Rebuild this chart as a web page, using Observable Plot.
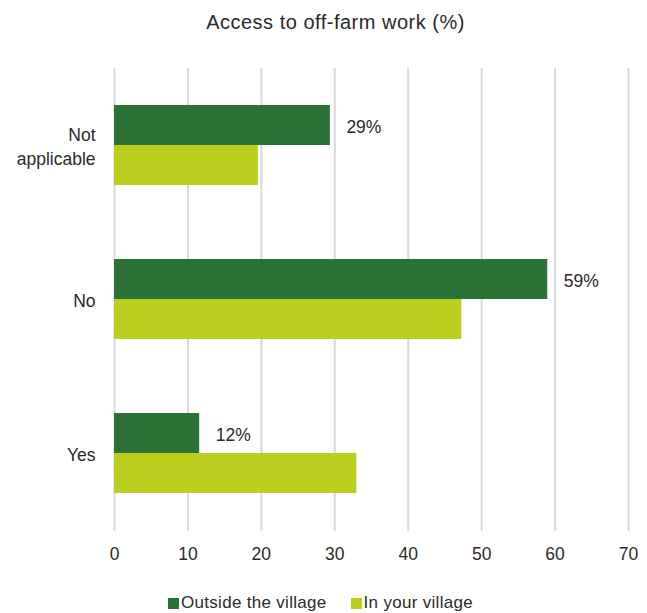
<!DOCTYPE html>
<html>
<head>
<meta charset="utf-8">
<script src="https://cdn.jsdelivr.net/npm/d3@7"></script>
<script src="https://cdn.jsdelivr.net/npm/@observablehq/plot@0.6"></script>
<style>
  body { margin: 0; background: #fff; font-family: "Liberation Sans", Arial, sans-serif; color: #2a2a2a; }
  #wrap { width: 647px; }
  #title { height: 44px; line-height: 44px; font-size: 20px; text-align: center; padding-left: 24px; letter-spacing: 0.5px; }
  #legend { display: flex; justify-content: center; align-items: center; height: 20px; margin-top: 19px; font-size: 17px; letter-spacing: 0.3px; padding-right: 6px; }
  .item { display: flex; align-items: center; margin: 0 12px; }
  .sw { width: 11px; height: 11px; margin-right: 2px; }
</style>
</head>
<body>
<div id="wrap">
  <div id="title">Access to off-farm work (%)</div>
  <div id="chart"></div>
  <div id="legend"></div>
</div>
<script>
const categories = ["Not applicable", "No", "Yes"];
const tickLabels = ["Not\napplicable", "No", "Yes"];
const seriesNames = ["Outside the village", "In your village"];
const outsideValues = [29.4, 59.0, 11.6];
const villageValues = [19.6, 47.3, 33.0];
const xTicks = [0, 10, 20, 30, 40, 50, 60, 70];
const colors = ["#2b7335", "#bccf1f"];

const outside = categories.map((c, i) => ({category: c, value: outsideValues[i]}));
const village = categories.map((c, i) => ({category: c, value: villageValues[i]}));
const labelMap = new Map(categories.map((c, i) => [c, tickLabels[i]]));

const plot = Plot.plot({
  width: 647,
  height: 530,
  marginTop: 24,
  marginBottom: 43,
  marginLeft: 114,
  marginRight: 19,
  style: {fontFamily: "Liberation Sans, Arial, sans-serif", fontSize: "17.5px", color: "#2a2a2a", background: "#fff"},
  x: {domain: [0, 70], ticks: xTicks},
  y: {domain: categories, paddingInner: 0.48, paddingOuter: 0.24},
  marks: [
    Plot.ruleX(xTicks, {stroke: "#d9d9d9", strokeWidth: 2}),
    Plot.barX(outside, {x: "value", y: "category", fill: colors[0], insetBottom: 40}),
    Plot.barX(village, {x: "value", y: "category", fill: colors[1], insetTop: 40}),
    Plot.text(outside, {x: "value", y: "category", text: d => Math.round(d.value) + "%", dx: 16, dy: -18, textAnchor: "start", fontSize: 17.5, fill: "#2a2a2a"}),
    Plot.axisX({ticks: xTicks, tickSize: 0, tickPadding: 16, fontSize: 17.5, label: null}),
    Plot.axisY({tickSize: 0, tickPadding: 19, fontSize: 17.5, label: null, lineHeight: 1.33, tickFormat: d => labelMap.get(d)})
  ]
});
document.getElementById("chart").appendChild(plot);

const legend = document.getElementById("legend");
seriesNames.forEach((name, i) => {
  const item = document.createElement("div");
  item.className = "item";
  const sw = document.createElement("div");
  sw.className = "sw";
  sw.style.background = colors[i];
  const t = document.createElement("span");
  t.textContent = name;
  item.appendChild(sw);
  item.appendChild(t);
  legend.appendChild(item);
});
</script>
</body>
</html>
